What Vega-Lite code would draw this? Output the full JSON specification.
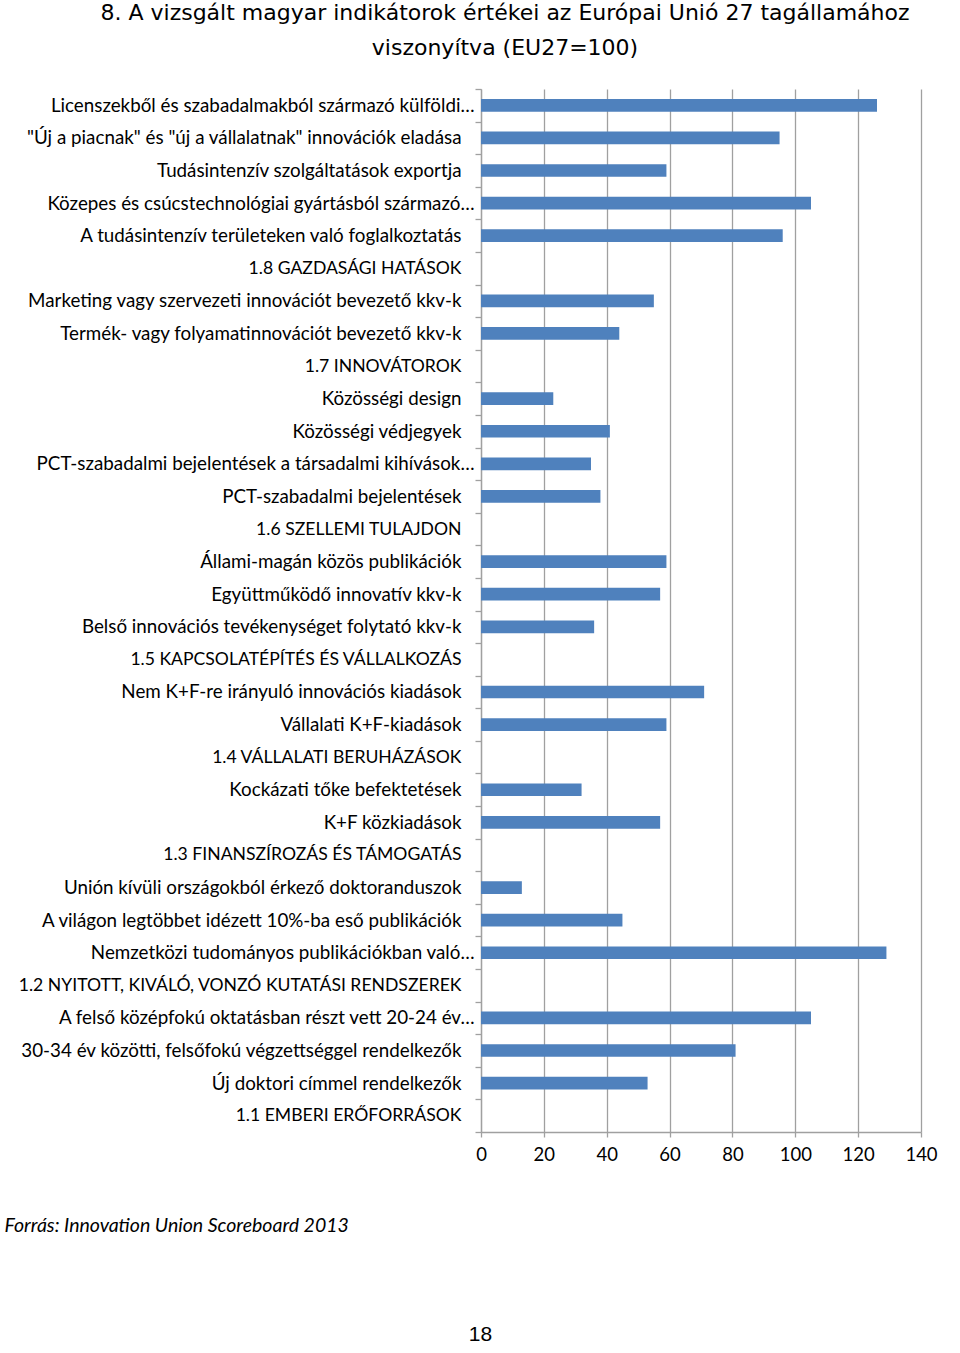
{
  "$schema": "https://vega.github.io/schema/vega-lite/v6.json",
  "autosize": {"type": "none"},
  "padding": {"left": 481, "top": 89, "right": 39, "bottom": 221},
  "background": "white",
  "width": 440,
  "height": 1043,
  "title": {
    "text": ["8. A vizsgált magyar indikátorok értékei az Európai Unió 27 tagállamához", "viszonyítva (EU27=100)"],
    "font": "DejaVu Sans",
    "fontSize": 22,
    "fontWeight": "normal",
    "color": "#000000",
    "lineHeight": 35,
    "anchor": "middle",
    "frame": "group",
    "dx": -196,
    "offset": 20
  },
  "data": {
    "values": [
      {"indikator": "Licenszekből és szabadalmakból származó külföldi…", "ertek": 126},
      {"indikator": "\"Új a piacnak\" és \"új a vállalatnak\" innovációk eladása", "ertek": 95},
      {"indikator": "Tudásintenzív szolgáltatások exportja", "ertek": 59},
      {"indikator": "Közepes és csúcstechnológiai gyártásból származó…", "ertek": 105},
      {"indikator": "A tudásintenzív területeken való foglalkoztatás", "ertek": 96},
      {"indikator": "1.8 GAZDASÁGI HATÁSOK", "ertek": null},
      {"indikator": "Marketing vagy szervezeti innovációt bevezető kkv-k", "ertek": 55},
      {"indikator": "Termék- vagy folyamatinnovációt bevezető kkv-k", "ertek": 44},
      {"indikator": "1.7 INNOVÁTOROK", "ertek": null},
      {"indikator": "Közösségi design", "ertek": 23},
      {"indikator": "Közösségi védjegyek", "ertek": 41},
      {"indikator": "PCT-szabadalmi bejelentések a társadalmi kihívások…", "ertek": 35},
      {"indikator": "PCT-szabadalmi bejelentések", "ertek": 38},
      {"indikator": "1.6 SZELLEMI TULAJDON", "ertek": null},
      {"indikator": "Állami-magán közös publikációk", "ertek": 59},
      {"indikator": "Együttműködő innovatív kkv-k", "ertek": 57},
      {"indikator": "Belső innovációs tevékenységet folytató kkv-k", "ertek": 36},
      {"indikator": "1.5 KAPCSOLATÉPÍTÉS ÉS VÁLLALKOZÁS", "ertek": null},
      {"indikator": "Nem K+F-re irányuló innovációs kiadások", "ertek": 71},
      {"indikator": "Vállalati K+F-kiadások", "ertek": 59},
      {"indikator": "1.4 VÁLLALATI BERUHÁZÁSOK", "ertek": null},
      {"indikator": "Kockázati tőke befektetések", "ertek": 32},
      {"indikator": "K+F közkiadások", "ertek": 57},
      {"indikator": "1.3 FINANSZÍROZÁS ÉS TÁMOGATÁS", "ertek": null},
      {"indikator": "Unión kívüli országokból érkező doktoranduszok", "ertek": 13},
      {"indikator": "A világon legtöbbet idézett 10%-ba eső publikációk", "ertek": 45},
      {"indikator": "Nemzetközi tudományos publikációkban való…", "ertek": 129},
      {"indikator": "1.2 NYITOTT, KIVÁLÓ, VONZÓ KUTATÁSI RENDSZEREK", "ertek": null},
      {"indikator": "A felső középfokú oktatásban részt vett 20-24 év…", "ertek": 105},
      {"indikator": "30-34 év közötti, felsőfokú végzettséggel rendelkezők", "ertek": 81},
      {"indikator": "Új doktori címmel rendelkezők", "ertek": 53},
      {"indikator": "1.1 EMBERI ERŐFORRÁSOK", "ertek": null}
    ]
  },
  "mark": {"type": "bar", "color": "#4f81bd", "height": {"band": 0.39}, "invalid": "show"},
  "encoding": {
    "y": {
      "field": "indikator",
      "type": "nominal",
      "sort": null,
      "scale": {"paddingInner": 0, "paddingOuter": 0},
      "axis": {
        "title": "18",
        "titleAngle": 0,
        "titleAlign": "center",
        "titleBaseline": "middle",
        "titleX": -1,
        "titleY": 1245,
        "titleFont": "Liberation Sans",
        "titleFontSize": 21,
        "titleFontWeight": "normal",
        "titleColor": "#000000",
        "tickBand": "extent",
        "tickSize": 6,
        "tickColor": "#a0a0a0",
        "tickWidth": 1.3,
        "domainColor": "#a0a0a0",
        "domainWidth": 1.3,
        "labelFont": "Lato",
        "labelFontSize": {"condition": {"test": "isString(datum.value) && slice(datum.value, 0, 2) == '1.'", "value": 17.6}, "value": 18.8},
        "labelColor": "#000000",
        "labelPadding": {"condition": {"test": "isString(datum.value) && indexof(datum.value, '…') >= 0", "value": 1}, "value": 14},
        "labelLimit": 0
      }
    },
    "x": {
      "field": "ertek",
      "type": "quantitative",
      "scale": {"domain": [0, 140], "nice": false},
      "axis": {
        "values": [0, 20, 40, 60, 80, 100, 120, 140],
        "title": "Forrás: Innovation Union Scoreboard 2013",
        "titleFont": "Lato",
        "titleFontStyle": "italic",
        "titleFontWeight": "normal",
        "titleFontSize": 19.5,
        "titleColor": "#000000",
        "titleAlign": "left",
        "titleBaseline": "middle",
        "titleX": -477,
        "titleY": 93,
        "grid": true,
        "gridColor": "#a0a0a0",
        "gridWidth": 1.3,
        "tickSize": 5,
        "tickColor": "#a0a0a0",
        "tickWidth": 1.3,
        "domainColor": "#a0a0a0",
        "domainWidth": 1.3,
        "labelFont": "Lato",
        "labelFontSize": 18.5,
        "labelColor": "#000000",
        "labelFlush": false,
        "labelPadding": 8
      }
    }
  },
  "config": {"view": {"stroke": null}}
}
